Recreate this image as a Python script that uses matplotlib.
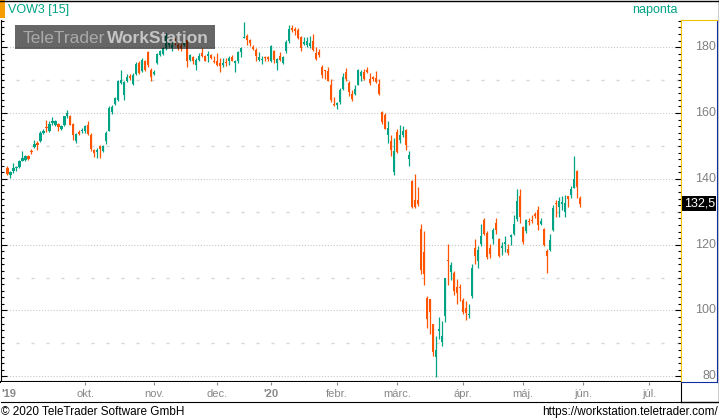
import matplotlib
matplotlib.use("Agg")
import matplotlib.pyplot as plt
import pandas as pd
from matplotlib.patches import Rectangle
from matplotlib.lines import Line2D

plt.rcParams['font.family'] = ['Liberation Sans', 'DejaVu Sans']

W, H = 719, 420
GREEN = "#00a383"
ORANGE = "#ff5500"

# Xetra closing days in the range
holidays = ["2019-12-24", "2019-12-25", "2019-12-26", "2019-12-31", "2020-01-01",
            "2020-04-10", "2020-04-13", "2020-05-01"]

# daily OHLC, 26 Aug 2019 .. 29 May 2020
opens = [143.3, 141.1, 142.3, 143.3, 143.5, 145.5, 145.6, 146.8, 148.5, 149.6,
         150.8, 151.4, 154.0, 155.8, 154.6, 157.0, 156.5, 156.7, 155.2, 156.3,
         159.0, 159.0, 156.7, 151.6, 154.0, 154.4, 154.4, 156.5, 153.4, 148.9,
         148.2, 149.9, 148.4, 151.6, 154.6, 160.2, 162.7, 164.0, 169.1, 165.4,
         169.6, 171.0, 168.9, 171.8, 175.2, 172.8, 175.8, 178.5, 173.1, 171.9,
         175.2, 177.7, 177.9, 179.7, 180.7, 179.7, 181.7, 180.7, 180.2, 180.7,
         182.2, 176.2, 176.9, 174.6, 176.2, 178.2, 177.2, 177.2, 177.5, 175.6,
         175.7, 175.2, 174.6, 175.3, 175.7, 176.9, 175.2, 175.7, 178.5, 182.9,
         183.5, 182.2, 180.2, 179.2, 176.2, 176.3, 177.0, 176.8, 175.7, 178.9,
         175.2, 177.2, 175.2, 178.9, 181.9, 185.9, 185.3, 185.2, 183.2, 180.9,
         180.7, 180.5, 181.9, 178.2, 178.5, 174.1, 172.9, 172.8, 168.4, 162.7,
         162.3, 163.3, 167.4, 172.6, 169.1, 165.8, 165.8, 168.6, 171.4, 172.6,
         173.1, 170.4, 170.7, 170.6, 168.8, 160.3, 159.5, 153.2, 151.6, 142.1,
         154.2, 151.9, 153.4, 154.9, 145.9, 139.3, 133.7, 133.7, 124.9, 117.9,
         103.9, 103.4, 95.8, 86.0, 93.9, 90.3, 98.4, 115.4, 111.8, 111.5,
         107.2, 107.0, 103.1, 100.7, 98.8, 104.4, 119.1, 115.0, 120.1, 127.4,
         123.6, 118.9, 121.6, 126.7, 121.6, 118.9, 120.1, 118.6, 122.3, 123.1,
         127.7, 134.8, 125.4, 124.1, 127.2, 127.3, 129.2, 130.4, 126.4, 124.9,
         118.1, 118.3, 124.6, 132.5, 131.4, 132.4, 130.0, 134.7, 135.0, 137.3,
         142.5, 134.2]
highs = [144.0, 142.5, 144.8, 143.8, 145.8, 148.4, 147.1, 147.1, 149.2, 151.9,
         151.4, 154.4, 155.0, 157.9, 157.7, 158.7, 158.0, 157.0, 156.5, 159.0,
         161.0, 159.5, 157.0, 153.9, 154.9, 155.4, 156.5, 157.7, 153.9, 149.1,
         149.4, 150.2, 150.4, 154.4, 162.0, 162.3, 165.0, 170.1, 173.1, 169.8,
         171.8, 171.8, 172.1, 175.4, 175.7, 176.7, 176.2, 178.7, 173.8, 173.1,
         178.2, 179.2, 180.2, 184.2, 182.7, 181.7, 182.7, 181.2, 181.2, 183.5,
         182.5, 177.9, 177.2, 176.7, 178.2, 179.7, 177.7, 178.9, 177.9, 177.2,
         178.2, 176.7, 176.7, 176.7, 177.2, 177.7, 176.2, 178.7, 180.2, 187.8,
         184.0, 182.5, 180.7, 179.7, 178.5, 177.2, 177.2, 177.2, 180.7, 179.2,
         176.7, 178.5, 177.2, 182.2, 186.8, 186.6, 186.2, 185.8, 183.5, 183.2,
         183.2, 183.5, 184.0, 180.0, 179.5, 174.6, 173.1, 174.1, 170.4, 165.0,
         163.5, 167.6, 172.1, 173.8, 169.6, 167.1, 168.6, 173.4, 173.1, 173.4,
         174.1, 172.1, 171.4, 172.8, 170.4, 160.7, 160.0, 157.5, 153.2, 152.4,
         155.2, 156.5, 156.0, 155.2, 148.6, 139.5, 141.5, 137.5, 126.2, 124.1,
         104.4, 103.6, 96.0, 92.3, 97.9, 96.7, 110.0, 120.1, 114.8, 112.0,
         109.5, 108.2, 103.7, 102.9, 101.9, 114.0, 121.6, 119.6, 126.4, 128.0,
         124.1, 120.3, 125.1, 128.0, 122.1, 120.9, 122.6, 120.3, 123.1, 129.0,
         136.8, 136.8, 125.7, 127.7, 128.0, 129.0, 130.0, 131.7, 128.2, 125.1,
         118.6, 123.1, 132.0, 133.7, 134.4, 134.7, 135.2, 134.7, 137.8, 146.9,
         142.8, 134.7]
lows = [141.1, 140.3, 141.8, 142.3, 143.2, 145.3, 145.3, 145.8, 147.6, 149.4,
        148.9, 151.1, 153.7, 154.2, 154.2, 156.5, 156.0, 154.4, 154.9, 156.0,
        158.5, 156.3, 151.9, 150.9, 153.2, 153.9, 154.0, 153.4, 148.6, 146.6,
        146.2, 146.4, 148.2, 150.6, 154.4, 159.7, 162.3, 163.7, 168.8, 164.0,
        169.3, 170.1, 168.4, 171.6, 171.8, 172.6, 172.8, 174.1, 169.6, 171.6,
        174.8, 177.4, 177.5, 179.2, 180.2, 178.9, 180.7, 179.2, 178.9, 180.5,
        174.1, 175.9, 174.8, 173.1, 175.9, 176.9, 175.7, 175.5, 176.3, 175.2,
        174.4, 172.4, 174.1, 174.4, 174.6, 175.7, 172.6, 175.2, 176.9, 182.7,
        180.7, 180.5, 179.2, 175.9, 175.9, 174.8, 175.7, 175.9, 175.5, 175.2,
        173.1, 175.9, 174.8, 178.2, 181.2, 184.7, 183.7, 182.5, 178.7, 180.7,
        180.2, 179.7, 178.9, 176.2, 176.9, 170.6, 170.4, 169.6, 163.5, 162.0,
        161.3, 162.7, 167.1, 169.8, 165.1, 163.7, 165.4, 168.4, 169.8, 170.1,
        172.1, 168.6, 169.6, 169.1, 165.4, 156.7, 155.0, 150.9, 146.9, 141.1,
        147.9, 150.9, 152.6, 148.9, 143.8, 131.2, 131.1, 131.7, 111.0, 107.8,
        94.8, 92.8, 86.3, 79.7, 91.3, 89.3, 96.4, 107.8, 109.2, 104.7,
        101.9, 102.9, 98.9, 97.1, 97.7, 103.9, 114.2, 112.8, 119.6, 122.9,
        115.6, 115.9, 120.3, 123.1, 116.3, 116.8, 117.9, 116.9, 119.9, 122.8,
        127.2, 126.7, 120.3, 123.6, 126.0, 126.7, 128.0, 124.6, 126.0, 119.6,
        111.5, 118.1, 124.3, 128.4, 128.4, 130.4, 128.4, 131.4, 134.2, 137.1,
        134.2, 131.4]
closes = [141.5, 142.1, 143.3, 143.5, 145.3, 146.2, 147.0, 146.1, 148.2, 150.6,
          150.4, 153.9, 154.6, 155.5, 156.7, 157.7, 157.5, 155.9, 156.0, 159.0,
          160.0, 156.5, 153.3, 153.6, 153.9, 154.9, 156.0, 153.6, 149.1, 147.9,
          148.8, 149.2, 150.1, 153.9, 161.5, 161.7, 164.5, 169.8, 170.1, 169.4,
          170.8, 170.9, 171.6, 174.8, 172.1, 176.2, 173.1, 174.6, 170.8, 172.6,
          177.9, 178.7, 179.7, 183.7, 182.2, 180.7, 181.2, 179.9, 179.9, 183.2,
          175.9, 177.5, 175.9, 176.2, 177.2, 177.2, 175.9, 177.9, 176.7, 175.5,
          174.6, 174.4, 175.3, 175.2, 176.7, 175.9, 175.7, 178.5, 179.7, 183.1,
          182.2, 181.2, 179.5, 177.2, 176.9, 176.4, 176.9, 176.6, 180.5, 176.2,
          176.5, 176.2, 176.9, 181.7, 185.6, 185.2, 185.2, 182.7, 179.9, 181.5,
          181.9, 181.2, 179.2, 176.5, 177.5, 171.6, 172.8, 169.8, 164.0, 162.5,
          163.0, 167.1, 170.8, 170.4, 166.4, 164.3, 167.4, 173.1, 172.6, 170.4,
          172.4, 169.1, 170.6, 169.4, 165.8, 157.3, 155.3, 155.5, 148.9, 148.6,
          148.2, 153.2, 154.6, 150.4, 147.2, 131.4, 131.4, 132.4, 112.2, 111.0,
          97.4, 99.4, 87.3, 88.0, 94.4, 92.3, 109.8, 115.1, 113.8, 105.8,
          105.2, 106.9, 99.4, 99.1, 98.9, 113.0, 116.6, 118.3, 122.6, 123.3,
          116.3, 117.3, 124.6, 124.6, 116.6, 119.7, 120.8, 117.6, 122.9, 126.2,
          133.4, 128.4, 120.9, 127.4, 127.1, 127.2, 128.7, 126.0, 127.2, 119.9,
          116.6, 121.3, 131.2, 132.4, 133.2, 133.0, 132.7, 134.0, 136.8, 140.1,
          137.5, 132.5]

month_labels = ["okt.", "nov.", "dec.", "'20", "febr.", "márc.", "ápr.", "máj.", "jún.", "júl."]
price_ticks = [80, 100, 120, 140, 160, 180]

# trading-day axis, extended into July like the original
days = pd.bdate_range("2019-08-26", "2020-07-31")
days = days[~days.isin(pd.to_datetime(holidays))]
idx = pd.Series(range(len(days)), index=days)
firsts = idx.groupby(days.to_period("M")).first()
month_pos = list(firsts.loc["2019-10":"2020-07"])

x = list(range(len(closes)))
cols = [GREEN if c >= o else ORANGE for o, c in zip(opens, closes)]
bottoms, heights = [], []
for o, c in zip(opens, closes):
    h = abs(c - o)
    if h < 0.35:
        bottoms.append(min(o, c) - (0.35 - h) / 2)
        heights.append(0.35)
    else:
        bottoms.append(min(o, c))
        heights.append(h)


def fx(px):
    return px / W


def fy(py):
    return 1 - py / H


fig = plt.figure(figsize=(W / 100, H / 100), dpi=100)

# main chart
ax = fig.add_axes([fx(0.5), fy(382), fx(681) - fx(0.5), fy(20) - fy(382)])
ax.set_xlim(-2.27, 224.7)
ax.set_ylim(78.27, 188.27)

for v in range(80, 181, 20):
    ax.axhline(v, color="#c8c8c8", lw=0.8, ls=(0, (1, 1.6)), zorder=1)
for v in range(90, 171, 20):
    ax.axhline(v, color="#d6d6d6", lw=1, ls=(0, (2.2, 8.6)), zorder=1)

ax.vlines(x, lows, highs, colors=cols, lw=0.9, zorder=2)
ax.bar(x, heights, bottom=bottoms, width=0.82, color=cols, lw=0, zorder=3)

ax.set_xticks([])
ax.set_yticks(price_ticks)
ax.set_yticks(list(range(80, 189, 2)), minor=True)
ax.tick_params(axis="y", which="both", left=True, right=True, direction="in",
               labelleft=False, labelright=False, color="black", width=0.8)
ax.tick_params(axis="y", which="major", length=4)
ax.tick_params(axis="y", which="minor", length=2.2)
ax.spines["top"].set_visible(False)
ax.spines["left"].set_color("black")
ax.spines["right"].set_color("#f2c200")
ax.spines["bottom"].set_color("black")
ax.spines["bottom"].set_linewidth(1.5)

# date band
band = fig.add_axes([fx(0.5), fy(402), fx(681) - fx(0.5), fy(382) - fy(402)])
band.set_xlim(ax.get_xlim())
band.set_ylim(0, 1)
band.set_yticks([])
band.set_xticks(month_pos)
band.tick_params(axis="x", direction="in", top=True, bottom=False,
                 labelbottom=False, length=2, color="#888888")
band.spines["top"].set_visible(False)
band.spines["left"].set_visible(False)
band.spines["bottom"].set_color("black")
band.spines["right"].set_color("black")
for pos, lab in zip(month_pos, month_labels):
    band.text(pos, 0.4, lab, ha="center", va="center", fontsize=8, color="#888888",
              weight="bold" if lab.startswith("'") else "normal")
band.text(0.002, 0.4, "'19", transform=band.transAxes, ha="left", va="center",
          fontsize=8, color="#888888", weight="bold")

# price panel
rp = fig.add_axes([fx(681), fy(382), fx(717) - fx(681), fy(20) - fy(382)])
rp.set_ylim(ax.get_ylim())
rp.set_xlim(0, 1)
rp.set_xticks([])
rp.set_yticks([])
rp.spines["left"].set_color("#f2c200")
rp.spines["top"].set_color("#f2c200")
rp.spines["right"].set_color("#1030a0")
rp.spines["bottom"].set_color("#1030a0")
for p in price_ticks:
    rp.text(0.97, p, str(p), ha="right", va="center", fontsize=9, color="#808080")
rp.add_patch(Rectangle((0.03, closes[-1] - 2.42), 0.94, 4.85, fc="black", ec="none"))
rp.text(0.95, closes[-1], f"{closes[-1]:.1f}".replace(".", ","), ha="right", va="center",
        fontsize=9, color="white")

# header
fig.add_artist(Rectangle((0, fy(18)), fx(5), 18 / H, transform=fig.transFigure,
                         fc="#f59d00", ec="none"))
fig.text(fx(8), fy(10), "VOW3 [15]", ha="left", va="center", fontsize=9, color=GREEN)
fig.text(fx(678), fy(10), "naponta", ha="right", va="center", fontsize=9, color=GREEN)

# frame lines
fig.add_artist(Line2D([0, 1], [fy(0.5), fy(0.5)], transform=fig.transFigure, color="black", lw=1))
fig.add_artist(Line2D([fx(718.5), fx(718.5)], [fy(0), fy(402)], transform=fig.transFigure,
                      color="black", lw=1))
fig.add_artist(Line2D([fx(681), fx(718.5)], [fy(401.5), fy(401.5)], transform=fig.transFigure,
                      color="black", lw=1))

# watermark
fig.add_artist(Rectangle((fx(15), fy(49)), fx(200), 24 / H, transform=fig.transFigure,
                         fc="black", alpha=0.6, ec="none", zorder=10))
fig.text(fx(23), fy(38.5), "TeleTrader", ha="left", va="center", fontsize=12.5,
         color="#aaaaaa", zorder=11)
fig.text(fx(107), fy(38.5), "WorkStation", ha="left", va="center", fontsize=12.5,
         color="#c4c4c4", weight="bold", zorder=11)

# footer
fig.text(fx(1), fy(412), "© 2020 TeleTrader Software GmbH", ha="left", va="center",
         fontsize=8.5, color="black")
fig.text(fx(718), fy(412), "https://workstation.teletrader.com/", ha="right", va="center",
         fontsize=8.5, color="black")

fig.savefig("out.png", dpi=100)
